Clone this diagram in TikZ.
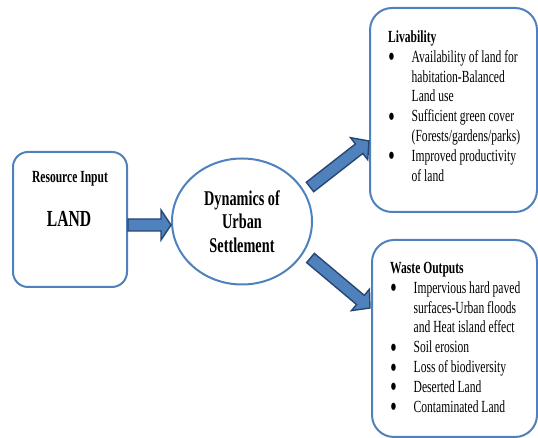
\documentclass[tikz,border=0pt]{standalone}
\usepackage{fontspec}
\setmainfont{Liberation Serif}[FakeStretch=0.68]
\usetikzlibrary{calc,shapes.geometric}

\definecolor{boxline}{RGB}{79,129,189}
\definecolor{arrowfill}{RGB}{79,129,189}
\definecolor{arrowline}{RGB}{40,70,115}

% block arrow: from, to, shaft half width, head half width, head length
\newcommand\blockarrow[5]{%
  \draw[barrow] let \p1=(#1), \p2=(#2),
    \n1={atan2(\y2-\y1,\x2-\x1)},
    \n2={veclen(\x2-\x1,\y2-\y1)-#5}
  in ($(\p1)+(\n1+90:#3)$)
  -- ($(\p1)+(\n1:\n2)+(\n1+90:#3)$)
  -- ($(\p1)+(\n1:\n2)+(\n1+90:#4)$)
  -- (\p2)
  -- ($(\p1)+(\n1:\n2)+(\n1-90:#4)$)
  -- ($(\p1)+(\n1:\n2)+(\n1-90:#3)$)
  -- ($(\p1)+(\n1-90:#3)$) -- cycle;}

\tikzset{
  panel/.style={draw=boxline, line width=2pt, fill=white, inner sep=0pt},
  barrow/.style={fill=arrowfill, draw=arrowline, line width=1.4pt, line join=miter},
  listtext/.style={anchor=north west, inner sep=0pt, align=left,
    font=\fontsize{17}{19.8}\selectfont},
}

% list bullet, rounder and heavier than the stretched text bullet
\newcommand\bul{\makebox[23.5pt][l]{\hspace{0.5pt}\smash{\raisebox{-3.6pt}{\scalebox{1.45}[1.55]{\bfseries\textbullet}}}}}

\begin{document}
\begin{tikzpicture}[x=1pt,y=1pt]
\useasboundingbox (0,0) rectangle (538,438);

% input box
\node[panel, rounded corners=15pt, minimum width=114pt, minimum height=135pt]
  (res) at (70,218.5) {};
\node[anchor=base, inner sep=0pt, font=\fontsize{17}{20}\selectfont\bfseries]
  (restitle) at (70,255) {Resource Input};
\node[anchor=base, inner sep=0pt, font=\fontsize{23}{26}\selectfont\bfseries]
  (land) at (69,211) {LAND};

% central ellipse
\node[panel, ellipse, minimum width=140pt, minimum height=126pt, align=center,
  font=\fontsize{21}{23.5}\selectfont\bfseries]
  (ell) at (242,216.5) {Dynamics of\\Urban\\Settlement};

% livability box
\node[panel, rounded corners=22pt, minimum width=167pt, minimum height=204pt]
  (live) at (453.5,328) {};
\node[listtext] (livetxt) at (388,409.5) {%
  \begin{tabular}{@{}l@{}l@{}}
  \multicolumn{2}{@{}l@{}}{\bfseries Livability}\\
  \bul & Availability of land for\\
       & habitation-Balanced\\
       & Land use\\
  \bul & Sufficient green cover\\
       & (Forests/gardens/parks)\\
  \bul & Improved productivity\\
       & of land
  \end{tabular}};

% waste box
\node[panel, rounded corners=22pt, minimum width=165pt, minimum height=197pt]
  (waste) at (454.5,99.5) {};
\node[listtext] (wastetxt) at (390,178.5) {%
  \begin{tabular}{@{}l@{}l@{}}
  \multicolumn{2}{@{}l@{}}{\bfseries Waste Outputs}\\
  \bul & Impervious hard paved\\
       & surfaces-Urban floods\\
       & and Heat island effect\\
  \bul & Soil erosion\\
  \bul & Loss of biodiversity\\
  \bul & Deserted Land\\
  \bul & Contaminated Land
  \end{tabular}};

% arrow end points
\coordinate (a1s) at (res.east |- 0,213);
\coordinate (a1e) at (ell.west |- a1s);
\coordinate (a2s) at (310,251);
\coordinate (a2e) at (369,297);
\coordinate (a3s) at (310.5,180);
\coordinate (a3e) at (370,130);

\blockarrow{a1s}{a1e}{6}{15}{10}
\blockarrow{a2s}{a2e}{6}{14}{12.5}
\blockarrow{a3s}{a3e}{6}{14}{12.5}
\end{tikzpicture}
\end{document}
